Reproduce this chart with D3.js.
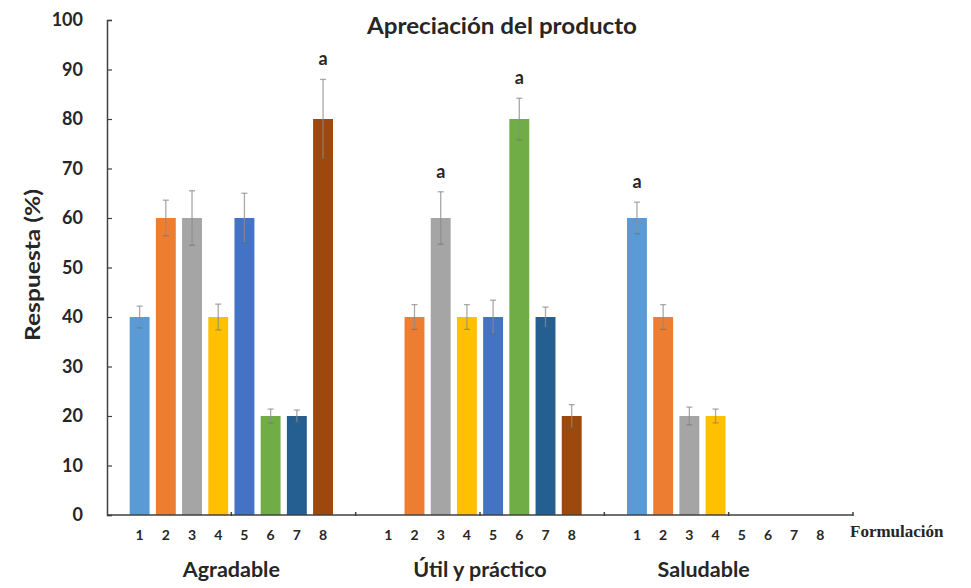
<html>
<head>
  <meta charset="UTF-8">
  <title>Apreciación del producto</title>
  <script src="https://d3js.org/d3.v7.min.js"></script>
  <style>
    body { margin: 0; background: white; }
    text { font-family: Lato, "Open Sans", sans-serif; font-weight: 700; fill: #262626; }
  </style>
</head>
<body>
<svg id="chart"></svg>
<script>
  // data
  let grupos = ["Agradable", "Útil y práctico", "Saludable"];
  let formulaciones = ["1", "2", "3", "4", "5", "6", "7", "8"];

  let agradable     = [40, 60, 60, 40, 60, 20, 20, 80];
  let utilPractico  = [0, 40, 60, 40, 40, 80, 40, 20];
  let saludable     = [60, 40, 20, 20, 0, 0, 0, 0];

  let errAgradable  = [2.2, 3.6, 5.5, 2.6, 5, 1.4, 1.2, 8];
  let errUtil       = [0, 2.5, 5.3, 2.5, 3.4, 4.2, 2, 2.3];
  let errSaludable  = [3.2, 2.5, 1.8, 1.4, 0, 0, 0, 0];

  let letraAgradable = ["", "", "", "", "", "", "", "a"];
  let letraUtil      = ["", "", "a", "", "", "a", "", ""];
  let letraSaludable = ["a", "", "", "", "", "", "", ""];

  let yTicks = [0, 10, 20, 30, 40, 50, 60, 70, 80, 90, 100];

  let colores = ["#5B9BD5", "#ED7D31", "#A5A5A5", "#FFC000", "#4472C4", "#70AD47", "#255E91", "#9E480E"];

  let valores = [agradable, utilPractico, saludable];
  let errores = [errAgradable, errUtil, errSaludable];
  let letras  = [letraAgradable, letraUtil, letraSaludable];

  let rows = [];
  grupos.forEach((g, gi) => {
    formulaciones.forEach((f, fi) => {
      rows.push({ grupo: g, form: f, valor: valores[gi][fi], err: errores[gi][fi], letra: letras[gi][fi] });
    });
  });

  let width = 971;
  let height = 588;
  let mLeft = 107, mRight = 853, mTop = 20, mBottom = 515;

  let svg = d3.select("#chart")
              .attr("width", width)
              .attr("height", height);

  let xGrupo = d3.scaleBand().domain(grupos).range([mLeft, mRight]).padding(0);
  let xForm = d3.scaleBand().domain(formulaciones)
                .range([0, xGrupo.bandwidth()])
                .paddingInner(0.24)
                .paddingOuter(0.865);
  let y = d3.scaleLinear().domain([0, 100]).range([mBottom, mTop]);

  // y axis
  let yAxis = d3.axisLeft(y).tickValues(yTicks).tickSize(-5).tickPadding(24);
  let gy = svg.append("g").attr("transform", `translate(${mLeft},0)`).call(yAxis);
  gy.select(".domain").attr("stroke", "#404040").attr("stroke-width", 1.5);
  gy.selectAll(".tick line").attr("stroke", "#404040").attr("stroke-width", 1.2);
  gy.selectAll(".tick text").attr("font-size", 18).attr("fill", "#262626")
    .style("font-family", "Lato, sans-serif").style("font-weight", 700);

  // bars
  let barras = svg.append("g").selectAll("rect")
                  .data(rows.filter(d => d.valor > 0))
                  .join("rect")
                  .attr("x", d => xGrupo(d.grupo) + xForm(d.form))
                  .attr("y", d => y(d.valor))
                  .attr("width", xForm.bandwidth())
                  .attr("height", d => y(0) - y(d.valor))
                  .attr("fill", d => colores[formulaciones.indexOf(d.form)]);

  // error bars
  let errG = svg.append("g").selectAll("g")
                .data(rows.filter(d => d.err > 0))
                .join("g")
                .attr("transform", d => `translate(${xGrupo(d.grupo) + xForm(d.form) + xForm.bandwidth() / 2},0)`);
  errG.append("line")
      .attr("y1", d => y(d.valor - d.err))
      .attr("y2", d => y(d.valor + d.err))
      .attr("stroke", "#8c8c8c").attr("stroke-opacity", 0.75).attr("stroke-width", 1.3);
  errG.append("line")
      .attr("x1", -3).attr("x2", 3)
      .attr("y1", d => y(d.valor + d.err))
      .attr("y2", d => y(d.valor + d.err))
      .attr("stroke", "#8c8c8c").attr("stroke-opacity", 0.75).attr("stroke-width", 1.3);
  errG.append("line")
      .attr("x1", -3).attr("x2", 3)
      .attr("y1", d => y(d.valor - d.err))
      .attr("y2", d => y(d.valor - d.err))
      .attr("stroke", "#666").attr("stroke-opacity", 0.5).attr("stroke-width", 1.2);

  // significance letters
  svg.append("g").selectAll("text")
     .data(rows.filter(d => d.letra !== ""))
     .join("text")
     .attr("x", d => xGrupo(d.grupo) + xForm(d.form) + xForm.bandwidth() / 2)
     .attr("y", d => y(d.valor + d.err) - 14)
     .attr("text-anchor", "middle")
     .attr("font-size", 18)
     .text(d => d.letra);

  // x axis line with group ticks
  svg.append("line")
     .attr("x1", mLeft).attr("x2", mRight)
     .attr("y1", mBottom).attr("y2", mBottom)
     .attr("stroke", "#404040").attr("stroke-width", 1.5);
  let marcas = [];
  grupos.forEach(g => {
    marcas.push(xGrupo(g) + xGrupo.bandwidth() / 2);
    marcas.push(xGrupo(g) + xGrupo.bandwidth());
  });
  svg.append("g").selectAll("line")
     .data(marcas)
     .join("line")
     .attr("x1", d => d).attr("x2", d => d)
     .attr("y1", mBottom - 3).attr("y2", mBottom + 1)
     .attr("stroke", "#404040").attr("stroke-width", 1.5);

  // formulation numbers
  svg.append("g").selectAll("text")
     .data(rows)
     .join("text")
     .attr("x", d => xGrupo(d.grupo) + xForm(d.form) + xForm.bandwidth() / 2)
     .attr("y", 540)
     .attr("text-anchor", "middle")
     .attr("font-size", 14)
     .attr("fill", "#333")
     .text(d => d.form);

  // group names
  svg.append("g").selectAll("text")
     .data(grupos)
     .join("text")
     .attr("x", (d, i) => xGrupo(d) + xGrupo.bandwidth() / 2 - (i === 2 ? 25 : 0))
     .attr("y", 577)
     .attr("text-anchor", "middle")
     .attr("font-size", 21.5)
     .text(d => d);

  svg.append("text")
     .attr("x", 850).attr("y", 537)
     .style("font-family", "'Liberation Serif', serif")
     .attr("font-size", 17)
     .attr("fill", "#262626")
     .text("Formulación");

  svg.append("text")
     .attr("x", 502).attr("y", 34)
     .attr("text-anchor", "middle")
     .attr("font-size", 22)
     .attr("textLength", 270)
     .attr("lengthAdjust", "spacingAndGlyphs")
     .text("Apreciación del producto");

  svg.append("text")
     .attr("transform", "translate(40,265) rotate(-90)")
     .attr("text-anchor", "middle")
     .attr("font-size", 21)
     .attr("textLength", 152)
     .attr("lengthAdjust", "spacingAndGlyphs")
     .text("Respuesta (%)");
</script>
</body>
</html>
